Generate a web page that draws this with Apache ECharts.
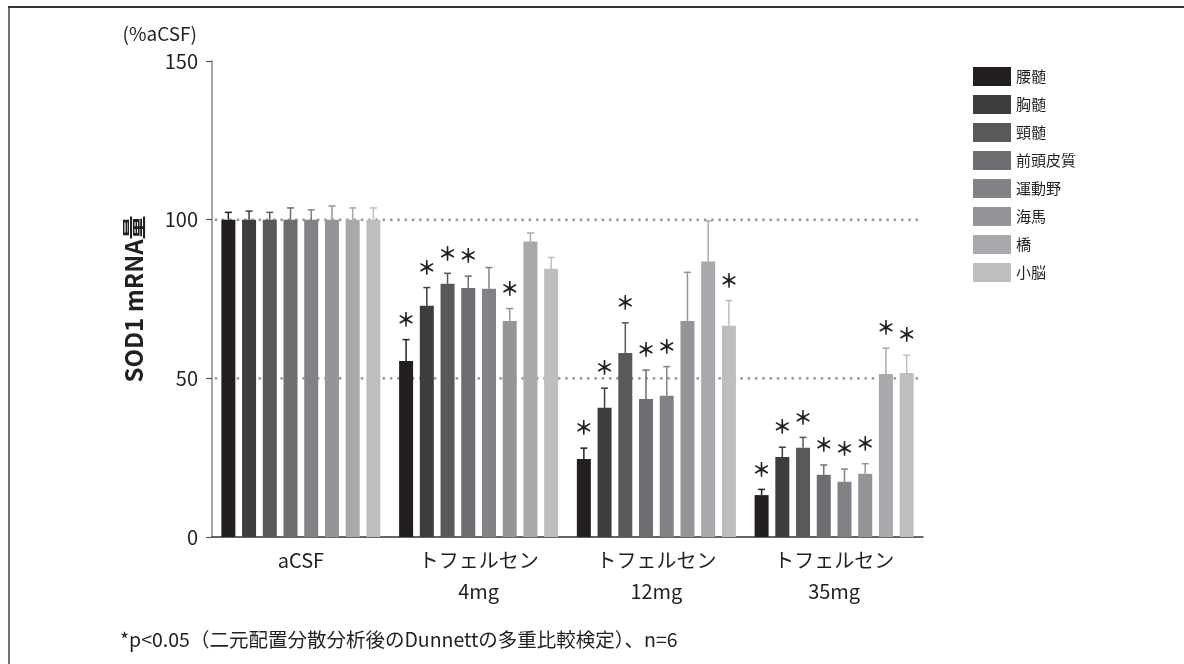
<!DOCTYPE html>
<html>
<head>
<meta charset="utf-8">
<script src="https://cdn.jsdelivr.net/npm/echarts@6/dist/echarts.min.js"></script>
<style>
  html, body { margin: 0; padding: 0; background: #fff; }
  #chart { width: 1184px; height: 664px; }
</style>
</head>
<body>
<div id="chart"></div>
<script>
// Treatment groups on the x axis
const categories = ['aCSF', 'トフェルセン\n4mg', 'トフェルセン\n12mg', 'トフェルセン\n35mg'];
// CNS regions (one bar series each)
const regions = ['腰髄', '胸髄', '頸髄', '前頭皮質', '運動野', '海馬', '橋', '小脳'];
const regionColors = ['#231f20', '#3d3d3e', '#58595b', '#6d6e71', '#808285', '#939598', '#a7a9ac', '#bcbec0'];

// Mean SOD1 mRNA (% of aCSF) per region, across the four groups
const lumbar   = [100, 55.5, 24.6, 13.2];
const thoracic = [100, 72.9, 40.7, 25.2];
const cervical = [100, 79.8, 58.0, 28.1];
const frontal  = [100, 78.5, 43.5, 19.6];
const motor    = [100, 78.2, 44.5, 17.4];
const hippo    = [100, 68.1, 68.1, 19.9];
const pons     = [100, 93.1, 86.8, 51.4];
const cerebel  = [100, 84.5, 66.6, 51.7];

// Upper error (SD) per region
const lumbarErr   = [2.3, 6.7, 3.4, 1.8];
const thoracicErr = [2.7, 5.7, 6.2, 3.1];
const cervicalErr = [2.3, 3.3, 9.5, 3.3];
const frontalErr  = [3.7, 3.7, 9.1, 3.1];
const motorErr    = [3.1, 6.7, 9.2, 4.0];
const hippoErr    = [4.3, 3.9, 15.3, 3.2];
const ponsErr     = [3.7, 2.7, 12.8, 8.1];
const cerebelErr  = [3.7, 3.6, 7.9, 5.6];

// Significance vs aCSF (1 = p<0.05)
const lumbarSig   = [0, 1, 1, 1];
const thoracicSig = [0, 1, 1, 1];
const cervicalSig = [0, 1, 1, 1];
const frontalSig  = [0, 1, 1, 1];
const motorSig    = [0, 0, 1, 1];
const hippoSig    = [0, 1, 0, 1];
const ponsSig     = [0, 0, 0, 1];
const cerebelSig  = [0, 0, 1, 1];

// Reference levels drawn as dotted lines
const refLevels = [50, 100];

// Y axis ticks
const yMin = 0, yMax = 150, yStep = 50;

const means = [lumbar, thoracic, cervical, frontal, motor, hippo, pons, cerebel];
const errs = [lumbarErr, thoracicErr, cervicalErr, frontalErr, motorErr, hippoErr, ponsErr, cerebelErr];
const sigs = [lumbarSig, thoracicSig, cervicalSig, frontalSig, motorSig, hippoSig, ponsSig, cerebelSig];

const FONT = '"Noto Sans CJK JP", "Noto Sans", sans-serif';
const TEXT = '#231f20';
const BAR_W = 14;
const BAR_GAP = 0.48;
const PITCH = BAR_W * (1 + BAR_GAP);

const chart = echarts.init(document.getElementById('chart'), null, { renderer: 'canvas' });

// Error bar rows: [categoryIndex, regionIndex, mean, err, sig]
const errRows = [];
regions.forEach((r, ri) => {
  categories.forEach((c, ci) => {
    errRows.push([ci, ri, means[ri][ci], errs[ri][ci], sigs[ri][ci]]);
  });
});

const barSeries = regions.map((name, i) => ({
  name: name,
  type: 'bar',
  data: means[i],
  barWidth: BAR_W,
  barGap: (BAR_GAP * 100) + '%',
  itemStyle: { color: regionColors[i] },
  z: 3,
  emphasis: { disabled: true },
  animation: false
}));

const option = {
  animation: false,
  textStyle: { fontFamily: FONT },
  grid: { left: 212, right: 261, top: 61, bottom: 127, containLabel: false },
  legend: {
    orient: 'vertical',
    left: 968,
    top: 62,
    itemWidth: 38,
    itemHeight: 19,
    itemGap: 9,
    icon: 'rect',
    selectedMode: false,
    textStyle: { fontSize: 15, color: TEXT, fontFamily: FONT },
    data: regions
  },
  xAxis: {
    type: 'category',
    data: categories,
    axisLine: { lineStyle: { color: '#333', width: 1.5 } },
    axisTick: { alignWithLabel: true, length: 5, lineStyle: { color: '#444', width: 1.2 } },
    axisLabel: { fontSize: 20, color: TEXT, lineHeight: 31, margin: 8, fontFamily: FONT }
  },
  yAxis: {
    type: 'value',
    min: yMin, max: yMax, interval: yStep,
    name: 'SOD1 mRNA量',
    nameLocation: 'middle',
    nameRotate: 90,
    nameGap: 66,
    nameTextStyle: { fontSize: 24, fontWeight: 'bold', color: TEXT, fontFamily: FONT },
    axisLine: { show: true, lineStyle: { color: '#8a8a8a', width: 1.5 } },
    axisTick: { show: true, length: 6, lineStyle: { color: '#555', width: 1.2 } },
    axisLabel: { fontSize: 20, color: TEXT, margin: 14, fontFamily: FONT },
    splitLine: { show: false }
  },
  graphic: [
    { type: 'line', shape: { x1: 8, y1: 7, x2: 1184, y2: 7 }, style: { stroke: '#333', lineWidth: 2 } },
    { type: 'line', shape: { x1: 9, y1: 7, x2: 9, y2: 664 }, style: { stroke: '#444', lineWidth: 1.5 } },
    { type: 'text', right: 1184 - 197, top: 24, style: { text: '(%aCSF)', fontSize: 19, fill: TEXT, fontFamily: FONT } },
    { type: 'text', left: 120, top: 630, style: { text: '*p<0.05（二元配置分散分析後のDunnettの多重比較検定）、n=6', fontSize: 19.5, fill: TEXT, fontFamily: FONT } }
  ],
  series: [
    // dotted reference lines behind the bars
    {
      type: 'custom',
      name: 'ref',
      z: 1,
      silent: true,
      data: refLevels.map(v => [0, v]),
      renderItem: function (params, api) {
        const cs = params.coordSys;
        const y = api.coord([0, api.value(1)])[1];
        return {
          type: 'line',
          shape: { x1: cs.x + 4, y1: y, x2: cs.x + cs.width, y2: y },
          style: { stroke: '#9d9d9d', lineWidth: 3, lineDash: [0, 7.3], lineCap: 'round' }
        };
      }
    },
    ...barSeries,
    // error bars with significance marks
    {
      type: 'custom',
      name: 'err',
      z: 4,
      silent: true,
      data: errRows,
      encode: { x: 0, y: 2 },
      renderItem: function (params, api) {
        const ci = api.value(0), ri = api.value(1);
        const m = api.value(2), e = api.value(3), s = api.value(4);
        const base = api.coord([ci, m]);
        const top = api.coord([ci, m + e]);
        const x = base[0] + (ri - (regions.length - 1) / 2) * PITCH;
        const col = regionColors[ri];
        const children = [
          { type: 'line', shape: { x1: x, y1: base[1], x2: x, y2: top[1] }, style: { stroke: col, lineWidth: 1.5 } },
          { type: 'line', shape: { x1: x - 3.5, y1: top[1], x2: x + 3.5, y2: top[1] }, style: { stroke: col, lineWidth: 1.5 } }
        ];
        if (s) {
          children.push({
            type: 'text',
            x: x, y: top[1] - 20,
            style: { text: '＊', fontSize: 19, fontWeight: 'bold', fill: '#231f20', align: 'center', verticalAlign: 'middle', fontFamily: FONT }
          });
        }
        return { type: 'group', children: children };
      }
    }
  ]
};

chart.setOption(option);
</script>
</body>
</html>
